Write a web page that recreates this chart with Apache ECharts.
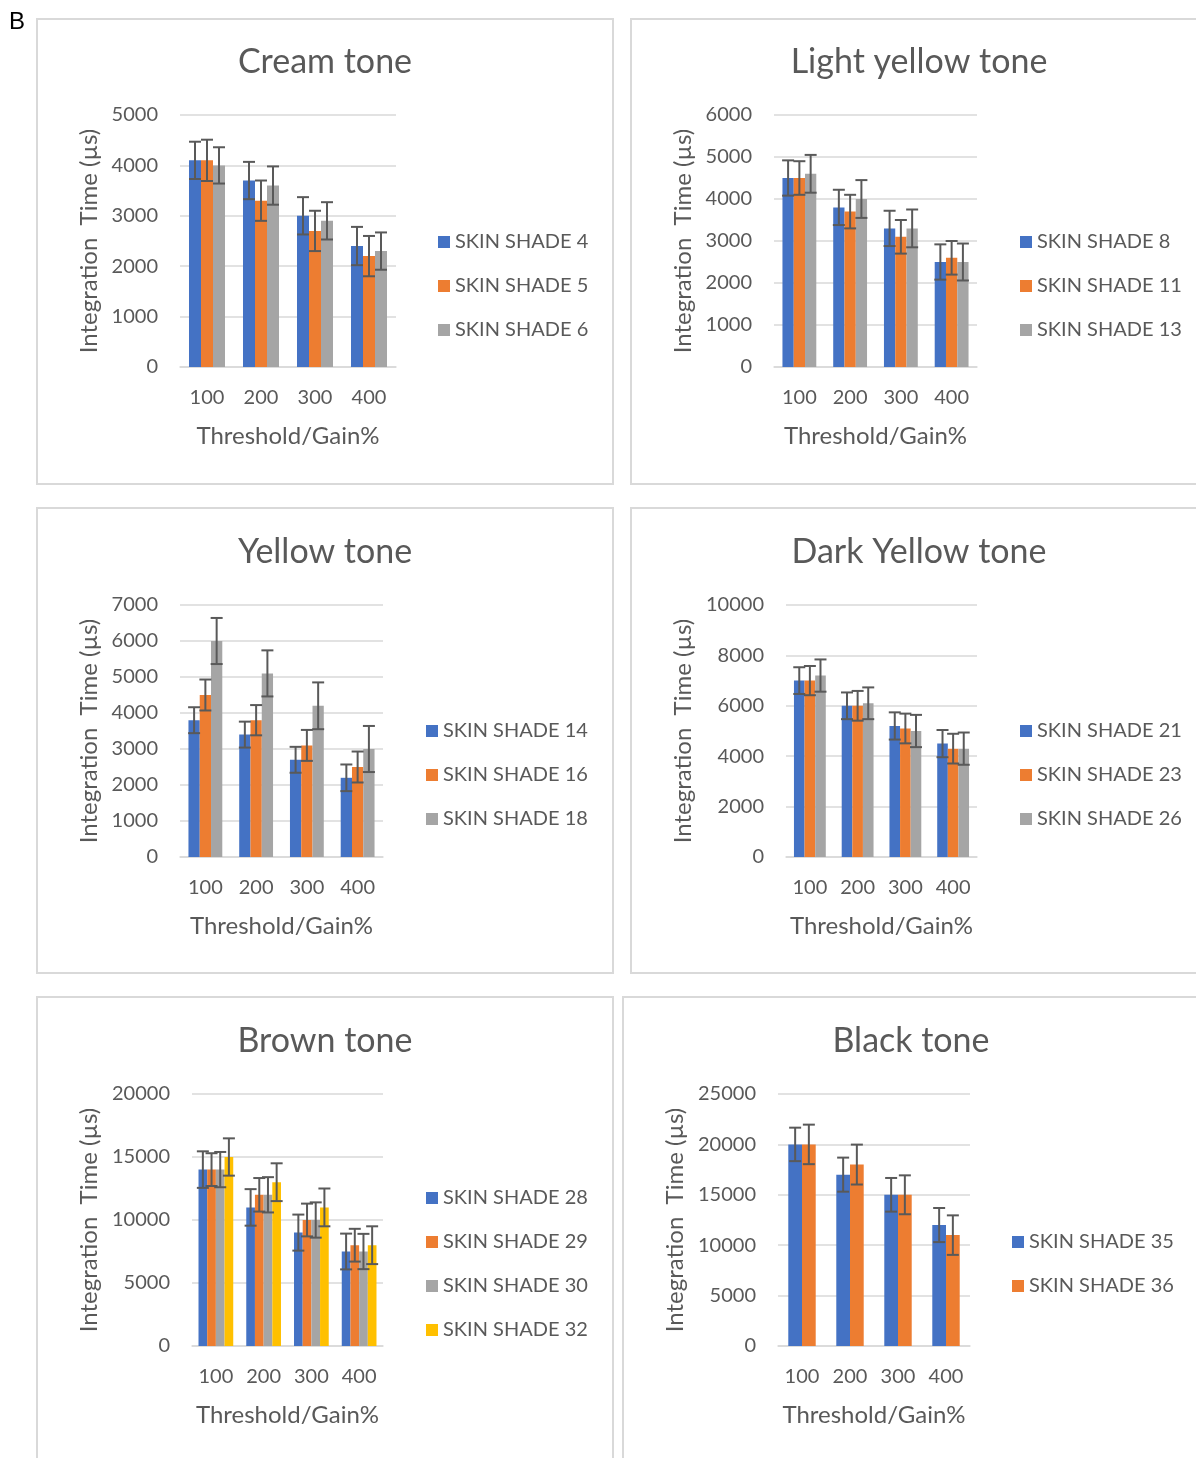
<!DOCTYPE html>
<html><head><meta charset="utf-8">
<script src="https://cdn.jsdelivr.net/npm/echarts@6/dist/echarts.min.js"></script>
<style>html,body{margin:0;padding:0;background:#fff}#c{width:1196px;height:1458px}</style>
</head><body><div id="c"></div>
<script>
// ---------- DATA ----------
const categories = ['100', '200', '300', '400'];
const xAxisName = 'Threshold/Gain%';
const yAxisName = 'Integration  Time (µs)';

const creamTitle = 'Cream tone';
const creamNames = ['SKIN SHADE 4', 'SKIN SHADE 5', 'SKIN SHADE 6'];
const creamValues = [[4100, 3700, 3000, 2400], [4100, 3300, 2700, 2200], [4000, 3600, 2900, 2300]];
const creamErrors = [[370, 370, 370, 380], [410, 400, 400, 400], [360, 380, 370, 370]];

const lightYellowTitle = 'Light yellow tone';
const lightYellowNames = ['SKIN SHADE 8', 'SKIN SHADE 11', 'SKIN SHADE 13'];
const lightYellowValues = [[4500, 3800, 3300, 2500], [4500, 3700, 3100, 2600], [4600, 4000, 3300, 2500]];
const lightYellowErrors = [[420, 420, 420, 420], [400, 400, 400, 400], [450, 450, 450, 440]];

const yellowTitle = 'Yellow tone';
const yellowNames = ['SKIN SHADE 14', 'SKIN SHADE 16', 'SKIN SHADE 18'];
const yellowValues = [[3800, 3400, 2700, 2200], [4500, 3800, 3100, 2500], [6000, 5100, 4200, 3000]];
const yellowErrors = [[360, 360, 360, 370], [430, 420, 430, 430], [640, 640, 650, 640]];

const darkYellowTitle = 'Dark Yellow tone';
const darkYellowNames = ['SKIN SHADE 21', 'SKIN SHADE 23', 'SKIN SHADE 26'];
const darkYellowValues = [[7000, 6000, 5200, 4500], [7000, 6000, 5100, 4300], [7200, 6100, 5000, 4300]];
const darkYellowErrors = [[530, 530, 540, 540], [580, 590, 590, 590], [640, 630, 640, 640]];

const brownTitle = 'Brown tone';
const brownNames = ['SKIN SHADE 28', 'SKIN SHADE 29', 'SKIN SHADE 30', 'SKIN SHADE 32'];
const brownValues = [[14000, 11000, 9000, 7500], [14000, 12000, 10000, 8000], [14000, 12000, 10000, 7500], [15000, 13000, 11000, 8000]];
const brownErrors = [[1450, 1450, 1430, 1420], [1300, 1330, 1300, 1300], [1400, 1400, 1400, 1400], [1480, 1500, 1500, 1500]];

const blackTitle = 'Black tone';
const blackNames = ['SKIN SHADE 35', 'SKIN SHADE 36'];
const blackValues = [[20000, 17000, 15000, 12000], [20000, 18000, 15000, 11000]];
const blackErrors = [[1660, 1690, 1670, 1690], [1960, 1980, 1930, 1960]];

const yMax = [5000, 6000, 7000, 10000, 20000, 25000];
const yInterval = [1000, 1000, 1000, 2000, 5000, 5000];

// ---------- STYLE / LAYOUT ----------
const colors = ['#4472C4', '#ED7D31', '#A5A5A5', '#FFC000'];
const textColor = '#595959';
const gridColor = '#D9D9D9';
const FONT = 'Lato, "Open Sans", sans-serif';

const panels = [
  { title: creamTitle, names: creamNames, values: creamValues, errors: creamErrors },
  { title: lightYellowTitle, names: lightYellowNames, values: lightYellowValues, errors: lightYellowErrors },
  { title: yellowTitle, names: yellowNames, values: yellowValues, errors: yellowErrors },
  { title: darkYellowTitle, names: darkYellowNames, values: darkYellowValues, errors: darkYellowErrors },
  { title: brownTitle, names: brownNames, values: brownValues, errors: brownErrors },
  { title: blackTitle, names: blackNames, values: blackValues, errors: blackErrors }
];

const layouts = [
  { grid: [180, 115, 216, 252], titleXY: [325, 62], yGap: 79, legendXY: [438, 232] },
  { grid: [774, 115, 203, 252], titleXY: [919, 62], yGap: 79, legendXY: [1020, 232] },
  { grid: [180, 605, 203, 252], titleXY: [325, 552], yGap: 79, legendXY: [426, 721] },
  { grid: [786, 605, 191, 252], titleXY: [919, 552], yGap: 91, legendXY: [1020, 721] },
  { grid: [192, 1094, 191, 252], titleXY: [325, 1041], yGap: 91, legendXY: [426, 1188] },
  { grid: [778, 1094, 192, 252], titleXY: [911, 1041], yGap: 91, legendXY: [1012, 1232] }
];

const frames = [
  [37, 19, 576, 465], [631, 19, 620, 465],
  [37, 508, 576, 465], [631, 508, 620, 465],
  [37, 997, 576, 520], [623, 997, 620, 520]
];

const titles = [], grids = [], xAxes = [], yAxes = [], legends = [], series = [];

panels.forEach((p, i) => {
  const L = layouts[i];
  const n = p.names.length;
  const gapRatio = 1.5 / (n + 1.5); // Excel gap width 150%
  titles.push({
    text: p.title, left: L.titleXY[0], top: L.titleXY[1], padding: 0,
    textAlign: 'center', textVerticalAlign: 'middle',
    textStyle: { fontFamily: FONT, fontSize: 34, fontWeight: 'normal', color: textColor }
  });
  grids.push({ left: L.grid[0], top: L.grid[1], width: L.grid[2], height: L.grid[3], containLabel: false });
  xAxes.push({
    type: 'category', gridIndex: i, data: categories,
    name: xAxisName, nameLocation: 'middle', nameGap: 57,
    nameTextStyle: { fontFamily: FONT, fontSize: 24, color: textColor },
    axisLine: { show: true, lineStyle: { color: gridColor, width: 1.5 } },
    axisTick: { show: false },
    axisLabel: { fontFamily: FONT, fontSize: 20, color: textColor, margin: 21 }
  });
  yAxes.push({
    type: 'value', gridIndex: i, min: 0, max: yMax[i], interval: yInterval[i],
    name: yAxisName, nameLocation: 'middle', nameGap: L.yGap,
    nameTextStyle: { fontFamily: FONT, fontSize: 24, color: textColor },
    axisLine: { show: false }, axisTick: { show: false },
    axisLabel: { fontFamily: FONT, fontSize: 20, color: textColor, margin: 22, formatter: v => String(v) },
    splitLine: { show: true, lineStyle: { color: gridColor, width: 1.5 } }
  });
  legends.push({
    orient: 'vertical', left: L.legendXY[0], top: L.legendXY[1], padding: 0,
    data: p.names, icon: 'rect', itemWidth: 12, itemHeight: 12, itemGap: 24,
    selectedMode: false,
    textStyle: { fontFamily: FONT, fontSize: 20, color: textColor, lineHeight: 20 }
  });
  p.names.forEach((nm, s) => {
    series.push({
      type: 'bar', name: nm, xAxisIndex: i, yAxisIndex: i,
      data: p.values[s],
      itemStyle: { color: colors[s] },
      barGap: '0%', barCategoryGap: (gapRatio * 100).toFixed(2) + '%',
      silent: true
    });
  });
  const errData = [];
  p.values.forEach((vals, s) => {
    vals.forEach((v, c) => {
      errData.push([c, s, v - p.errors[s][c], v + p.errors[s][c]]);
    });
  });
  series.push({
    type: 'custom', name: 'err' + i, xAxisIndex: i, yAxisIndex: i,
    data: errData, encode: { x: 0, y: [2, 3] }, z: 10, silent: true,
    renderItem: (params, api) => {
      const band = api.size([1, 0])[0];
      const bw = band * (1 - gapRatio) / n;
      const cat = api.value(0), s = api.value(1);
      const cx = api.coord([cat, 0])[0] + (s - (n - 1) / 2) * bw;
      const yLo = api.coord([cat, api.value(2)])[1];
      const yHi = api.coord([cat, api.value(3)])[1];
      const st = { stroke: '#595959', lineWidth: 2 };
      const hw = 6;
      return {
        type: 'group', children: [
          { type: 'line', shape: { x1: cx, y1: yLo, x2: cx, y2: yHi }, style: st },
          { type: 'line', shape: { x1: cx - hw, y1: yLo, x2: cx + hw, y2: yLo }, style: st },
          { type: 'line', shape: { x1: cx - hw, y1: yHi, x2: cx + hw, y2: yHi }, style: st }
        ]
      };
    }
  });
});

const graphics = frames.map(f => ({
  type: 'rect', shape: { x: f[0], y: f[1], width: f[2], height: f[3] },
  style: { fill: 'none', stroke: gridColor, lineWidth: 2 }, silent: true, z: -1
}));
graphics.push({
  type: 'text', left: 9, top: 10,
  style: { text: 'B', fontFamily: '"Liberation Sans", Arial, sans-serif', fontSize: 24, fill: '#000' }
});

const chart = echarts.init(document.getElementById('c'), null, { renderer: 'canvas' });
chart.setOption({
  animation: false,
  backgroundColor: '#fff',
  title: titles, grid: grids, xAxis: xAxes, yAxis: yAxes, legend: legends,
  series: series, graphic: graphics
});
</script></body></html>
